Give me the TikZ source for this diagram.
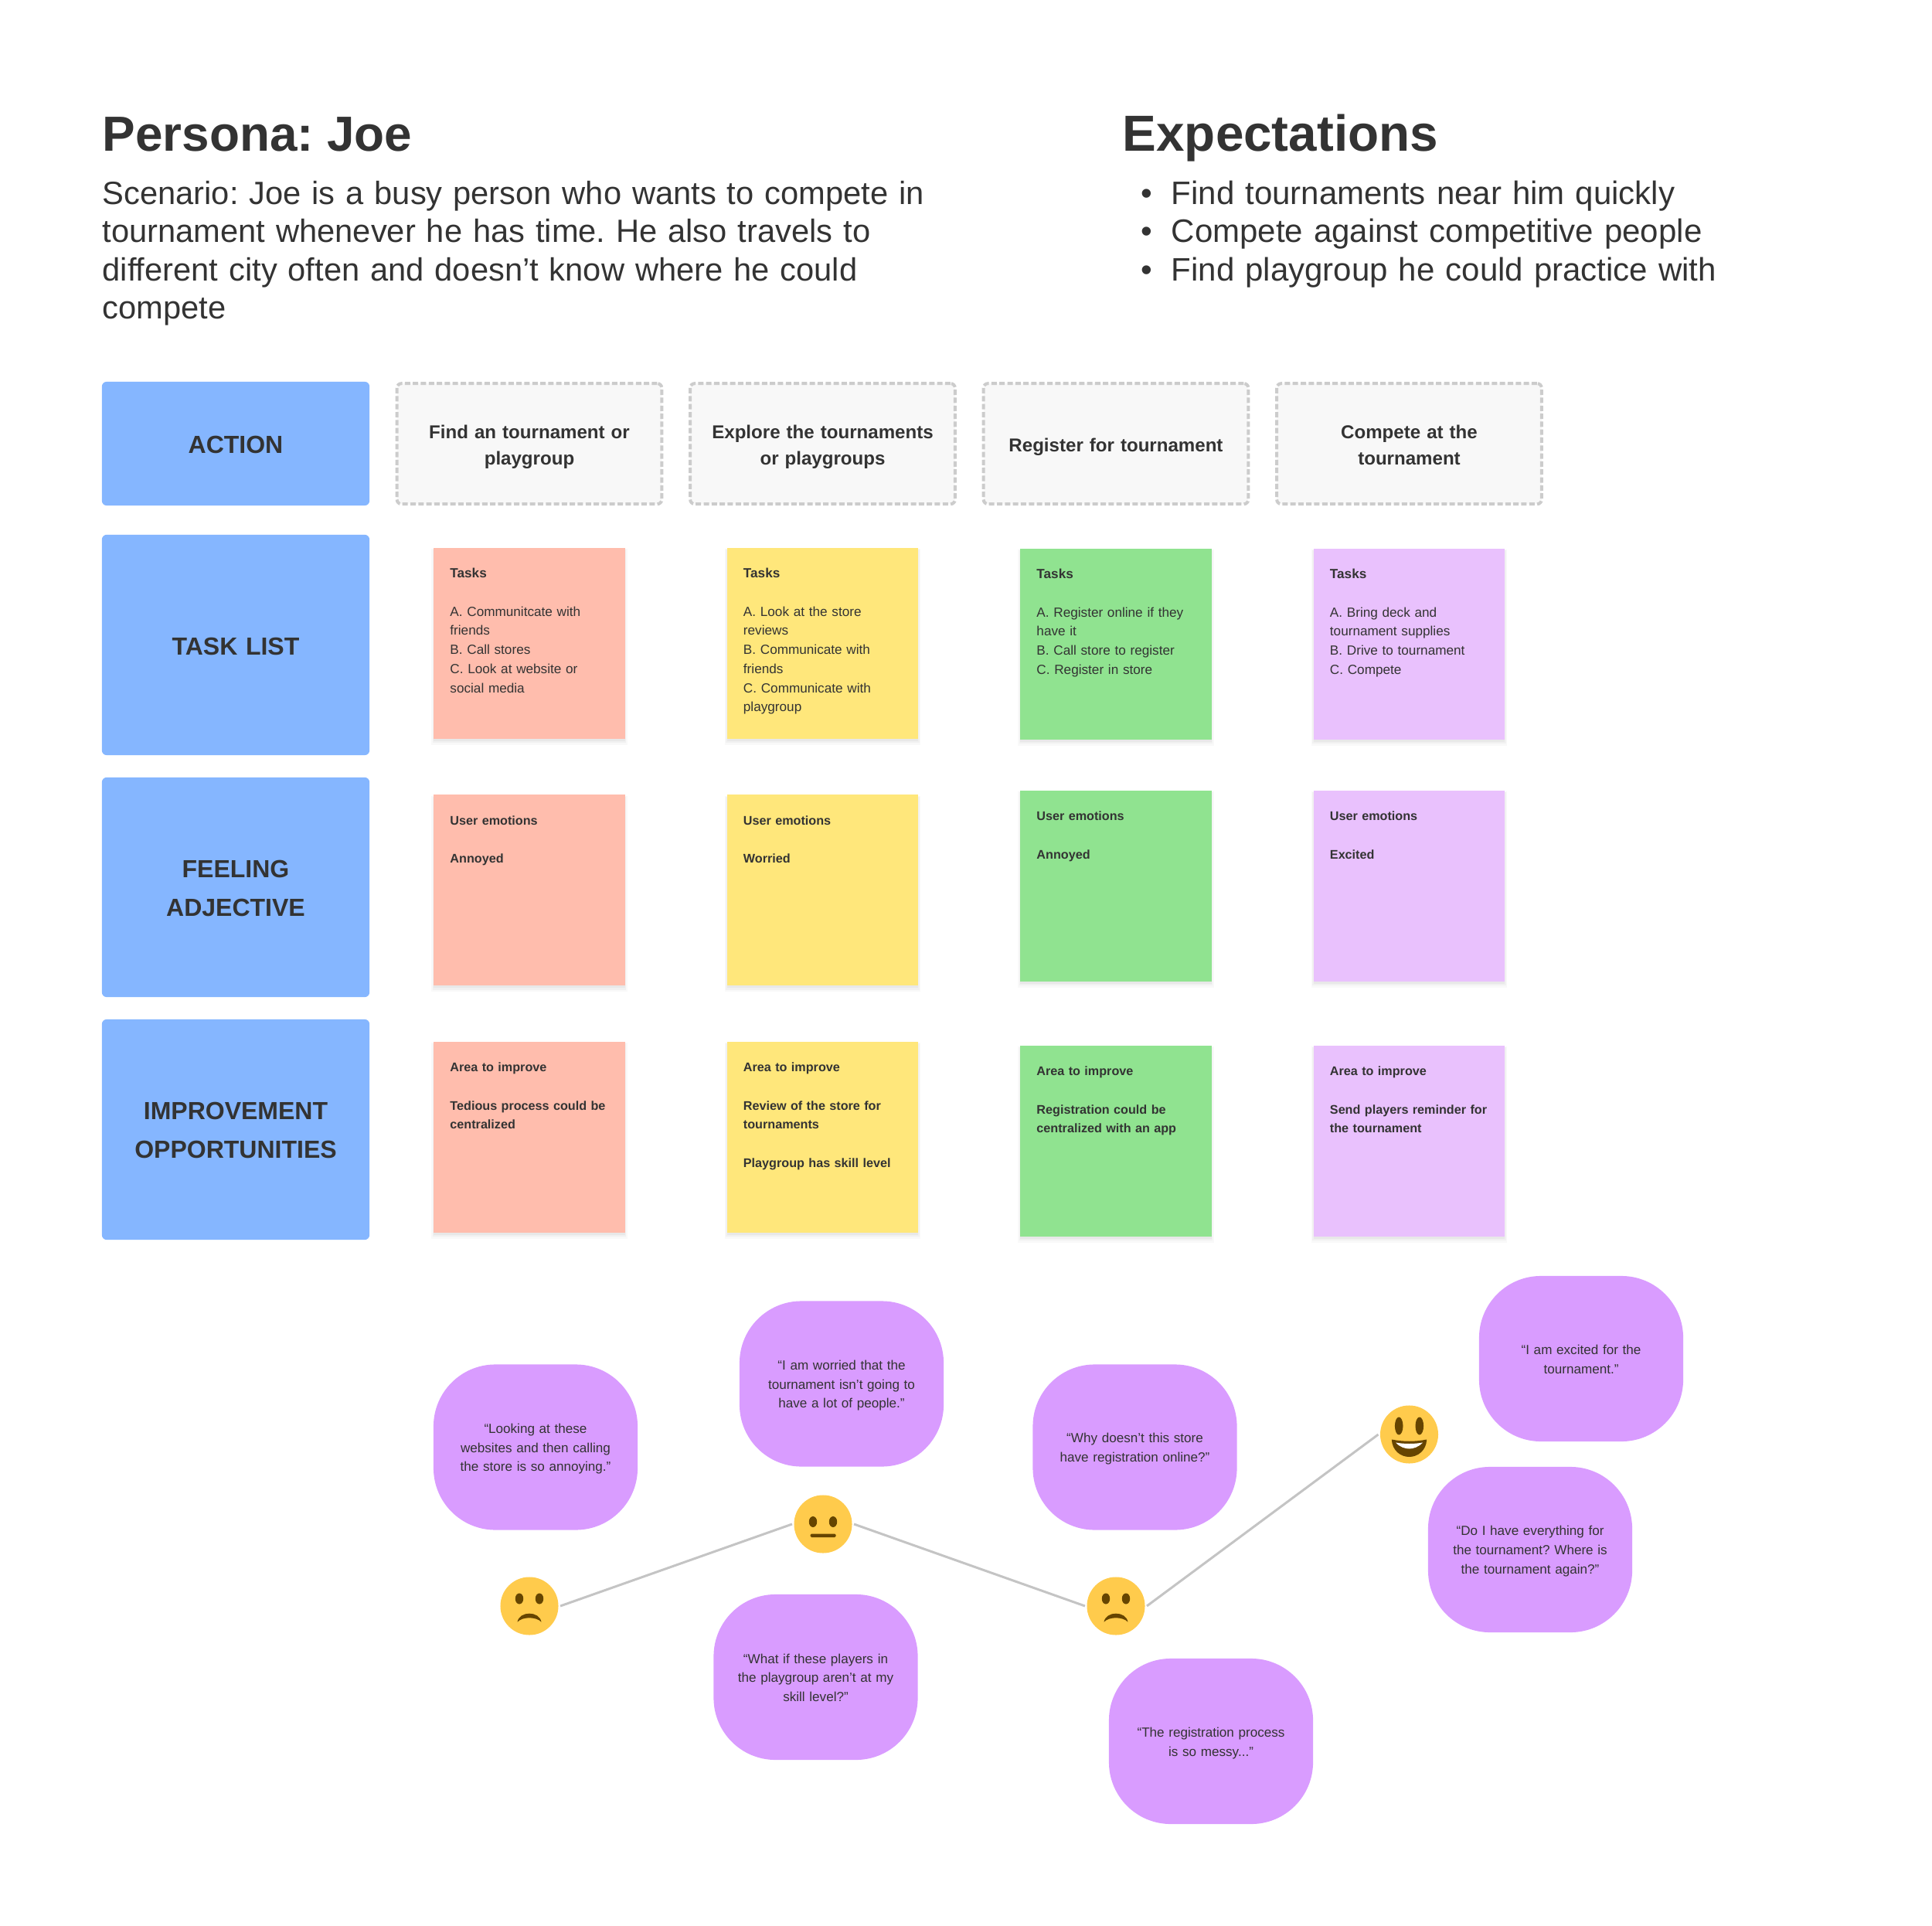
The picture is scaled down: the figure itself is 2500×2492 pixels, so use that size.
\documentclass[tikz,border=0pt]{standalone}
\usepackage{fontspec}
\setmainfont{Liberation Sans}
\frenchspacing
\usetikzlibrary{shadows}

\definecolor{inkgrey}{HTML}{333333}
\definecolor{labelblue}{HTML}{85B6FF}
\definecolor{actionfill}{HTML}{F8F8F8}
\definecolor{actionedge}{HTML}{CCCCCC}
\definecolor{stickyred}{HTML}{FFBDAD}
\definecolor{stickyyellow}{HTML}{FFE77B}
\definecolor{stickygreen}{HTML}{90E390}
\definecolor{stickypurple}{HTML}{E9C1FD}
\definecolor{bubblepurple}{HTML}{D99CFF}
\definecolor{emojiyellow}{HTML}{FFCB4C}
\definecolor{emojibrown}{HTML}{664500}
\definecolor{curvegrey}{HTML}{C4C4C4}

\tikzset{
  rowlabel/.style = {shape=rectangle, fill=labelblue, rounded corners=.06cm, inner sep=0pt, text width=3.46cm,
    align=center, text=inkgrey, font=\fontsize{9.1}{14.2}\selectfont\bfseries},
  actionbox/.style = {shape=rectangle, draw=actionedge, fill=actionfill, line width=.04cm,
    dash pattern=on .07cm off .033cm, rounded corners=.06cm, inner sep=0pt, text width=3.426cm,
    align=center, text=inkgrey, font=\fontsize{6.85}{9.55}\selectfont\bfseries},
  actiontwo/.style = {text height=.713cm, text depth=.847cm},
  actionone/.style = {text height=.88cm, text depth=.68cm},
  stickynote/.style = {shape=rectangle, anchor=north, inner xsep=.21cm, inner ysep=0pt,
    text width=2.05cm, text height=.39cm, text depth=2.08cm, align=left, text=inkgrey,
    font=\fontsize{4.88}{7.03}\selectfont,
    drop shadow={shadow xshift=0pt, shadow yshift=-.045cm, shadow scale=1.025, fill=black, opacity=.025},
    drop shadow={shadow xshift=0pt, shadow yshift=-.04cm, shadow scale=1.012, fill=black, opacity=.03},
    drop shadow={shadow xshift=0pt, shadow yshift=-.03cm, shadow scale=1, fill=black, opacity=.04}},
  stickybold/.style = {font=\fontsize{4.6}{7.03}\selectfont\bfseries},
  quotebubble/.style = {shape=rectangle, fill=bubblepurple, rounded corners=.8cm, inner sep=0pt, text width=2.64cm,
    align=center, text=inkgrey, font=\fontsize{4.86}{7.03}\selectfont},
  quotethree/.style = {text height=.89cm, text depth=1.25cm},
  quotetwo/.style = {text height=1.014cm, text depth=1.126cm},
  facenode/.style = {shape=circle, fill=emojiyellow, minimum size=.75cm, inner sep=0pt, outer sep=.025cm},
  moodline/.style = {draw=curvegrey, line width=.03cm},
  sadface/.pic = {
    \fill[emojibrown] (-13,-9.5) ellipse [x radius=5.2, y radius=7];
    \fill[emojibrown] (13,-9.5) ellipse [x radius=5.2, y radius=7];
    \fill[emojibrown] (-15.5,20.7) .. controls (-13,6) and (13,6) .. (15.5,20.7)
      .. controls (9,13.5) and (-9,13.5) .. cycle;
  },
  neutralface/.pic = {
    \fill[emojibrown] (-13,-3) ellipse [x radius=5.2, y radius=7];
    \fill[emojibrown] (13,-3) ellipse [x radius=5.2, y radius=7];
    \fill[emojibrown, rounded corners=.015cm] (-16.5,12.5) rectangle (16.5,17);
  },
  smileface/.pic = {
    \fill[emojibrown] (-13.3,-11) ellipse [x radius=5.3, y radius=11.5];
    \fill[emojibrown] (13.3,-11) ellipse [x radius=5.3, y radius=11.5];
    \fill[emojibrown] (-22.7,6.5) .. controls (-8,9.5) and (8,9.5) .. (22.7,6.5)
      .. controls (22,21) and (11,29) .. (0,29) .. controls (-11,29) and (-22,21) .. cycle;
    \fill[white] (-17.5,10.5) .. controls (-6,12.5) and (6,12.5) .. (17.5,10.5)
      .. controls (12,16.5) and (5,18.5) .. (0,18.5) .. controls (-5,18.5) and (-12,16.5) .. cycle;
  }
}

\begin{document}
\begin{tikzpicture}[x=.01cm, y=-.01cm]
  \useasboundingbox (0,0) rectangle (2500,2492);

  % headings
  \node[anchor=base west, inner sep=0pt, text=inkgrey, font=\fontsize{18.15}{22}\selectfont\bfseries] (personatitle) at (132,196) {Persona: Joe};
  \node[anchor=base west, inner sep=0pt, text=inkgrey, font=\fontsize{18.65}{22}\selectfont\bfseries] (expecttitle) at (1452,196) {Expectations};
  \node[anchor=base west, inner sep=0pt, text width=12cm, align=left, text=inkgrey, font=\fontsize{11.85}{14.05}\selectfont] (scenario) at (132,264.5)
    {Scenario: Joe is a busy person who wants to compete in\\
     tournament whenever he has time. He also travels to\\
     different city often and doesn’t know where he could\\
     compete};
  \node[anchor=base west, inner sep=0pt, text width=8.5cm, align=left, text=inkgrey, font=\fontsize{11.95}{14.05}\selectfont] (expectlist) at (1515,264.5)
    {\leavevmode\llap{\textbullet\hspace{.24cm}}Find tournaments near him quickly\\
     \leavevmode\llap{\textbullet\hspace{.24cm}}Compete against competitive people\\
     \leavevmode\llap{\textbullet\hspace{.24cm}}Find playgroup he could practice with};

  % row labels
  \node[rowlabel, text height=.927cm, text depth=.673cm] (action) at (305,574) {ACTION};
  \node[rowlabel, text height=1.55cm, text depth=1.30cm] (tasklist) at (305,834.5) {TASK LIST};
  \node[rowlabel, text height=1.30cm, text depth=1.54cm] (feeling) at (305,1148) {FEELING\\ADJECTIVE};
  \node[rowlabel, text height=1.30cm, text depth=1.55cm] (improve) at (305,1461.5) {IMPROVEMENT\\OPPORTUNITIES};

  % action boxes
  \node[actionbox, actiontwo] (find) at (685,574.2) {Find an tournament or\\playgroup};
  \node[actionbox, actiontwo] (explore) at (1064.5,574.2) {Explore the tournaments\\or playgroups};
  \node[actionbox, actionone] (register) at (1444,574.2) {Register for tournament};
  \node[actionbox, actiontwo] (compete) at (1823.5,574.2) {Compete at the\\tournament};

  % task notes
  \node[stickynote, fill=stickyred] (taskfind) at (685,708)
    {\textbf{Tasks}\\[7.03pt] A. Communitcate with\\friends\\B. Call stores\\C. Look at website or\\social media};
  \node[stickynote, fill=stickyyellow] (taskexplore) at (1064.5,708)
    {\textbf{Tasks}\\[7.03pt] A. Look at the store\\reviews\\B. Communicate with\\friends\\C. Communicate with\\playgroup};
  \node[stickynote, fill=stickygreen] (taskregister) at (1444,709)
    {\textbf{Tasks}\\[7.03pt] A. Register online if they\\have it\\B. Call store to register\\C. Register in store};
  \node[stickynote, fill=stickypurple] (taskcompete) at (1823.5,709)
    {\textbf{Tasks}\\[7.03pt] A. Bring deck and\\tournament supplies\\B. Drive to tournament\\C. Compete};

  % emotion notes
  \node[stickynote, stickybold, fill=stickyred] (feelfind) at (685,1027.5) {User emotions\\[7.03pt] Annoyed};
  \node[stickynote, stickybold, fill=stickyyellow] (feelexplore) at (1064.5,1027.5) {User emotions\\[7.03pt] Worried};
  \node[stickynote, stickybold, fill=stickygreen] (feelregister) at (1444,1022) {User emotions\\[7.03pt] Annoyed};
  \node[stickynote, stickybold, fill=stickypurple] (feelcompete) at (1823.5,1022) {User emotions\\[7.03pt] Excited};

  % improvement notes
  \node[stickynote, stickybold, fill=stickyred] (areafind) at (685,1347)
    {Area to improve\\[7.03pt] \mbox{Tedious process could be}\\centralized};
  \node[stickynote, stickybold, fill=stickyyellow] (areaexplore) at (1064.5,1347)
    {Area to improve\\[7.03pt] Review of the store for\\tournaments\\[7.03pt] Playgroup has skill level};
  \node[stickynote, stickybold, fill=stickygreen] (arearegister) at (1444,1352)
    {Area to improve\\[7.03pt] Registration could be\\centralized with an app};
  \node[stickynote, stickybold, fill=stickypurple] (areacompete) at (1823.5,1352)
    {Area to improve\\[7.03pt] \mbox{Send players reminder for}\\the tournament};

  % quotes
  \node[quotebubble, quotethree] (quotewebsites) at (693,1872.5) {“Looking at these\\websites and then calling\\the store is so annoying.”};
  \node[quotebubble, quotethree] (quoteworried) at (1089,1790.5) {“I am worried that the\\tournament isn’t going to\\have a lot of people.”};
  \node[quotebubble, quotetwo] (quotewhy) at (1468.5,1872.5) {“Why doesn’t this store\\have registration online?”};
  \node[quotebubble, quotetwo] (quoteexcited) at (2046,1758) {“I am excited for the\\tournament.”};
  \node[quotebubble, quotethree] (quoteeverything) at (1980,2005) {“Do I have everything for\\the tournament? Where is\\the tournament again?”};
  \node[quotebubble, quotethree] (quoteplayers) at (1055.5,2170) {“What if these players in\\the playgroup aren’t at my\\skill level?”};
  \node[quotebubble, quotetwo] (quotemessy) at (1567,2253) {“The registration process\\is so messy...”};

  % journey
  \node[facenode] (sadfind) at (685,2078) {};
  \node[facenode] (neutralexplore) at (1065,1972) {};
  \node[facenode] (sadregister) at (1444,2078) {};
  \node[facenode] (smilecompete) at (1823.5,1856) {};
  \pic at (sadfind) {sadface};
  \pic at (neutralexplore) {neutralface};
  \pic at (sadregister) {sadface};
  \pic at (smilecompete) {smileface};

  \draw[moodline] (sadfind.east) -- (neutralexplore.west);
  \draw[moodline] (neutralexplore.east) -- (sadregister.west);
  \draw[moodline] (sadregister.east) -- (smilecompete.west);
\end{tikzpicture}
\end{document}
